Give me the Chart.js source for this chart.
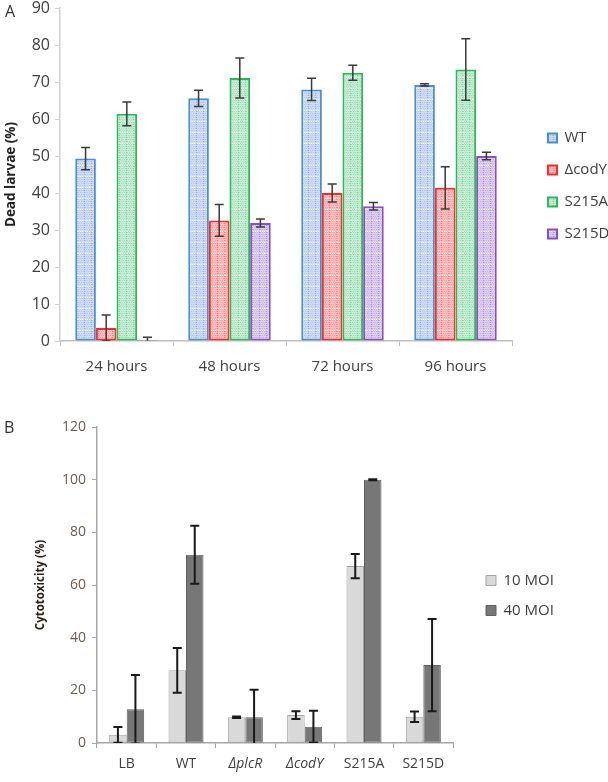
<!DOCTYPE html>
<html>
<head>
<meta charset="utf-8">
<script src="https://cdn.jsdelivr.net/npm/chart.js@4.4.1/dist/chart.umd.min.js"></script>
<style>
body { margin: 0; background: #fff; width: 608px; height: 782px; position: relative; overflow: hidden; font-family: "Open Sans", sans-serif; }
canvas { position: absolute; left: 0; }
.letra { position: absolute; font-size: 16px; color: #333; }
</style>
</head>
<body>
<canvas id="chart_larvas" style="top:0" width="608" height="390"></canvas>
<canvas id="chart_citotox" style="top:390px" width="608" height="392"></canvas>
<div class="letra" style="left:5px;top:0px">A</div>
<div class="letra" style="left:4px;top:416px">B</div>
<script>
// PANEL A - larvas muertas (%)
var horas = ["24 hours", "48 hours", "72 hours", "96 hours"];
var wt = [49.3, 65.6, 68.0, 69.2];
var wtErr = [3.0, 2.2, 3.0, 0.3];
var codY = [3.5, 32.6, 40.0, 41.4];
var codYErr = [3.5, 4.3, 2.4, 5.7];
var s215a = [61.4, 71.1, 72.5, 73.4];
var s215aErr = [3.2, 5.4, 2.0, 8.3];
var s215d = [0.3, 31.9, 36.4, 50.0];
var s215dErr = [0.7, 1.1, 1.0, 1.0];
var ticksA = [0, 10, 20, 30, 40, 50, 60, 70, 80, 90];

// PANEL B - citotoxicidad (%)
var cepas = ["LB", "WT", "\u0394plcR", "\u0394codY", "S215A", "S215D"];
var moi10 = [3.1, 27.6, 9.8, 10.6, 67.2, 10.0];
var moi10Err = [3.0, 8.5, 0.3, 1.5, 4.6, 2.0];
var moi40 = [12.8, 71.5, 9.8, 6.2, 100, 29.6];
var moi40Err = [13.0, 11.0, 10.4, 6.0, 0.2, 17.5];
var ticksB = [0, 20, 40, 60, 80, 100, 120];

var fuente = '"Open Sans", sans-serif';

// relleno punteado tipo Excel
function trama(fondo, punto, linea) {
    var c = document.createElement('canvas');
    c.width = 7;
    c.height = 11;
    var g = c.getContext('2d');
    g.fillStyle = fondo;
    g.fillRect(0, 0, 7, 11);
    g.fillStyle = punto;
    for (var y = 1; y < 11; y += 2) {
        for (var x = (y % 4 == 1) ? 1 : 2; x < 7; x += 2) g.fillRect(x, y, 1, 1);
    }
    g.fillStyle = linea;
    for (var y = 1; y < 11; y += 2) g.fillRect(0, y, 1, 1);
    g.fillStyle = '#ffffff';
    for (var x = 1; x < 7; x += 2) g.fillRect(x, 0, 1, 1);
    return g.createPattern(c, 'repeat');
}

// leyenda con ancho fijo y desplazada
var leyendaFija = {
    id: 'leyendaFija',
    beforeLayout: function(chart, args, opts) {
        var lg = chart.legend;
        if (lg && !lg._fijada) {
            var fit = lg.fit;
            lg.fit = function() {
                fit.call(this);
                this.width = opts.ancho;
            };
            lg._fijada = true;
        }
    },
    afterLayout: function(chart, args, opts) {
        var lg = chart.legend;
        lg.left += opts.dx;
        lg.right += opts.dx;
        lg.top += opts.dy;
        lg.bottom += opts.dy;
    }
};

// barras de error
var barrasError = {
    id: 'barrasError',
    afterDatasetsDraw: function(chart, args, opts) {
        var ctx = chart.ctx;
        var esc = chart.scales.y;
        var area = chart.chartArea;
        ctx.save();
        ctx.beginPath();
        ctx.rect(area.left, area.top - 20, area.right - area.left, area.bottom - area.top + 20);
        ctx.clip();
        ctx.strokeStyle = opts.color;
        ctx.lineWidth = opts.grosor;
        chart.data.datasets.forEach(function(ds, i) {
            var meta = chart.getDatasetMeta(i);
            meta.data.forEach(function(bar, j) {
                var v = ds.data[j];
                var e = ds.errores[j];
                var arriba = esc.getPixelForValue(v + e);
                var abajo = esc.getPixelForValue(v - e);
                ctx.beginPath();
                ctx.moveTo(bar.x, arriba);
                ctx.lineTo(bar.x, abajo);
                ctx.moveTo(bar.x - opts.tapa, arriba);
                ctx.lineTo(bar.x + opts.tapa, arriba);
                ctx.moveTo(bar.x - opts.tapa, abajo);
                ctx.lineTo(bar.x + opts.tapa, abajo);
                ctx.stroke();
            });
        });
        ctx.restore();
    }
};

function chartLarvas() {
    const data = {
        labels: horas,
        datasets: [{
            label: 'WT',
            data: wt,
            errores: wtErr,
            backgroundColor: trama('#cddcf2', '#b3c9ea', '#8fb0e0'),
            borderColor: '#4a8fd6'
        }, {
            label: '\u0394codY',
            data: codY,
            errores: codYErr,
            backgroundColor: trama('#ffbdbd', '#ff9f9f', '#ff7a7a'),
            borderColor: '#ff2b2b'
        }, {
            label: 'S215A',
            data: s215a,
            errores: s215aErr,
            backgroundColor: trama('#c2edd0', '#a3dfb8', '#7fd29c'),
            borderColor: '#2cb857'
        }, {
            label: 'S215D',
            data: s215d,
            errores: s215dErr,
            backgroundColor: trama('#dccdee', '#c7b2e2', '#ad8fd6'),
            borderColor: '#8b4fc4'
        }]
    };
    data.datasets.forEach(function(ds) {
        ds.borderWidth = 2;
        ds.borderSkipped = false;
        ds.categoryPercentage = 0.73;
        ds.barPercentage = 1.0;
    });
    const config = {
        type: 'bar',
        data: data,
        options: {
            responsive: false,
            animation: false,
            layout: { padding: { top: 8, left: 0, right: 0, bottom: 0 } },
            plugins: {
                legend: {
                    position: 'right',
                    labels: { boxWidth: 9, boxHeight: 9, padding: 17, color: '#404040', font: { family: fuente, size: 15 } }
                },
                leyendaFija: { ancho: 96, dx: 19, dy: -13 },
                barrasError: { color: '#3a3a3a', grosor: 1.5, tapa: 4.5 },
                tooltip: { enabled: false }
            },
            scales: {
                x: {
                    afterFit: function(s) { s.height = 49; },
                    grid: { offset: true, drawOnChartArea: false, tickLength: 5, color: '#bfbfbf' },
                    border: { color: '#bfbfbf', width: 1.5 },
                    ticks: { color: '#404040', padding: 12, font: { family: fuente, size: 15 } }
                },
                y: {
                    min: 0,
                    max: ticksA[ticksA.length - 1],
                    afterFit: function(s) { s.width = 60; s.paddingTop = 0; s.paddingBottom = 0; },
                    afterBuildTicks: function(s) { s.ticks = ticksA.map(function(v) { return { value: v }; }); },
                    grid: { drawOnChartArea: false, tickLength: 5, color: '#d0d0d0' },
                    border: { color: '#d0d0d0', width: 1.5 },
                    ticks: { color: '#404040', padding: 5, font: { family: fuente, size: 16, lineHeight: 1 } },
                    title: { display: true, text: 'Dead larvae (%)', color: '#222', padding: { top: 3, bottom: 0 }, font: { family: fuente, size: 13.5, weight: 'bold' } }
                }
            }
        },
        plugins: [leyendaFija, barrasError]
    };
    new Chart(document.getElementById('chart_larvas'), config);
}

function chartCitotox() {
    const data = {
        labels: cepas,
        datasets: [{
            label: '10 MOI',
            data: moi10,
            errores: moi10Err,
            backgroundColor: '#d9d9d9',
            borderColor: '#a3a3a3'
        }, {
            label: '40 MOI',
            data: moi40,
            errores: moi40Err,
            backgroundColor: '#777777',
            borderColor: '#606060'
        }]
    };
    data.datasets.forEach(function(ds) {
        ds.borderWidth = 1;
        ds.borderSkipped = false;
        ds.categoryPercentage = 0.59;
        ds.barPercentage = 1.0;
    });
    const config = {
        type: 'bar',
        data: data,
        options: {
            responsive: false,
            animation: false,
            layout: { padding: { top: 37, left: 0, right: 0, bottom: 0 } },
            plugins: {
                legend: {
                    position: 'right',
                    labels: { boxWidth: 10, boxHeight: 10, padding: 15, color: '#404040', font: { family: fuente, size: 15 } }
                },
                leyendaFija: { ancho: 155, dx: 18, dy: -9 },
                barrasError: { color: '#1a1a1a', grosor: 2, tapa: 4.5 },
                tooltip: { enabled: false }
            },
            scales: {
                x: {
                    afterFit: function(s) { s.height = 39; },
                    grid: { offset: true, drawOnChartArea: false, tickLength: 5, color: '#a6a6a6' },
                    border: { color: '#a6a6a6', width: 1.5 },
                    ticks: {
                        color: '#404040',
                        padding: 8,
                        font: function(c) {
                            var lab = c.tick ? c.tick.label : '';
                            return { family: fuente, size: 14, style: (lab && lab.charAt(0) == '\u0394') ? 'italic' : 'normal' };
                        }
                    }
                },
                y: {
                    min: 0,
                    max: ticksB[ticksB.length - 1],
                    afterFit: function(s) { s.width = 97; s.paddingTop = 0; s.paddingBottom = 0; },
                    afterBuildTicks: function(s) { s.ticks = ticksB.map(function(v) { return { value: v }; }); },
                    grid: { drawOnChartArea: false, tickLength: 5, color: '#a6a6a6' },
                    border: { color: '#a6a6a6', width: 1.5 },
                    ticks: { color: '#6b5d4f', padding: 6, font: { family: fuente, size: 14, lineHeight: 1 } },
                    title: { display: true, text: 'Cytotoxicity (%)', color: '#2a2218', padding: { top: 34, bottom: 0 }, font: { family: fuente, size: 11.5, weight: 'bold' } }
                }
            }
        },
        plugins: [leyendaFija, barrasError]
    };
    new Chart(document.getElementById('chart_citotox'), config);
}

chartLarvas();
chartCitotox();
</script>
</body>
</html>
